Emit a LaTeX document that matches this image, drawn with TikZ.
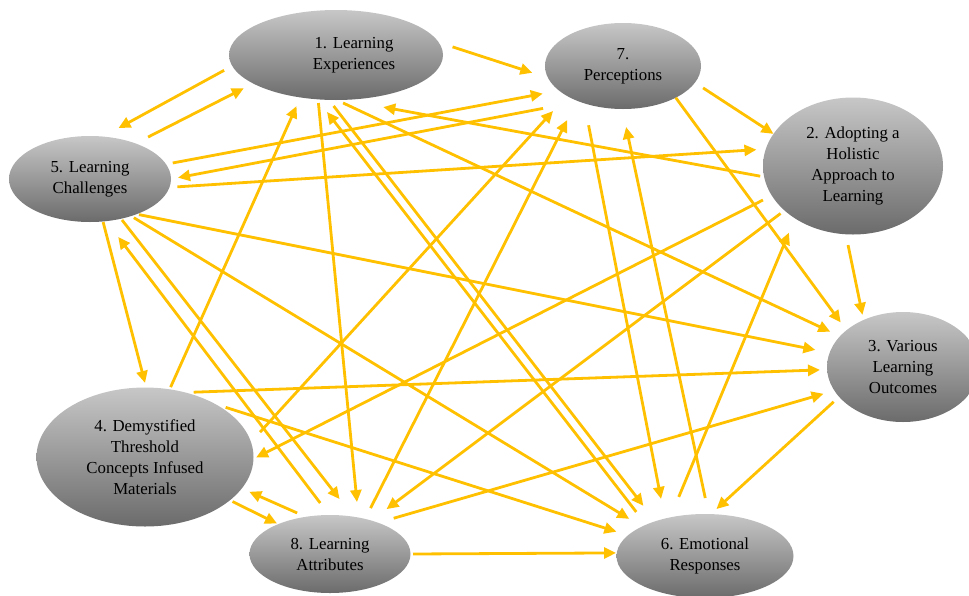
\documentclass[tikz,border=0pt]{standalone}
\usepackage{fontspec}
\setmainfont{Liberation Serif}
\usepackage{tikz}
\usetikzlibrary{shapes.geometric, arrows.meta}
\definecolor{gold}{RGB}{255,192,0}
\tikzset{
    every node/.style={ellipse, top color=black!22, bottom color=black!58,
    	inner sep=0pt, outer sep=0pt, align=center,
    	font=\fontsize{16.8}{21}\selectfont}
}
\tikzset{
    every edge/.append style={line width=2.8pt, draw=gold,
    	-{Triangle[length=12pt,width=11pt]}}
}
\tikzset{
    gap/.style 2 args={shorten <=#1pt, shorten >=#2pt}
}

\begin{document}
\begin{tikzpicture}[x=1pt, y=-1pt]
  \useasboundingbox (0,0) rectangle (969,595);
  \node (1) [minimum width=214pt, minimum height=90pt] at (336, 55)
    {\hspace*{36pt}1. Learning\\\hspace*{36pt}Experiences};
  \node (2) [minimum width=180pt, minimum height=137pt] at (853, 166)
    {2. Adopting a\\Holistic\\Approach to\\Learning};
  \node (3) [minimum width=152pt, minimum height=110pt] at (903, 367)
    {3. Various\\Learning\\Outcomes};
  \node (4) [minimum width=217pt, minimum height=139pt] at (145, 457)
    {4. Demystified\\Threshold\\Concepts Infused\\Materials};
  \node (5) [minimum width=162pt, minimum height=86pt] at (90, 179)
    {5. Learning\\Challenges};
  \node (6) [minimum width=177pt, minimum height=84pt] at (705, 556)
    {6. Emotional\\Responses};
  \node (7) [minimum width=156pt, minimum height=86pt] at (623, 66)
    {7.\\Perceptions};
  \node (8) [minimum width=161pt, minimum height=78pt] at (330, 554)
    {8. Learning\\Attributes};

  \draw (1.-174.2) edge[gap={9.2}{17.7}] (5.73.6);
  \draw (5.38) edge[gap={14.1}{10.6}] (1.-161.4);
  \draw (1.7.5) edge[gap={14.6}{16.5}] (7.-171.6);
  \draw (7.-13) edge[gap={9.7}{0}] (2.158.8);
  \draw (7.-31.6) edge[gap={0}{9.7}] (3.147.7);
  \draw (2.-96.9) edge[gap={11}{5.3}] (3.130.4);
  \draw (5.11.8) edge[gap={6.8}{16.5}] (7.-159.7);
  \draw (7.-141.9) edge[gap={36.7}{7.1}] (5.0.5);
  \draw (2.-173.8) edge[gap={4}{40}] (1.-80.4);
  \draw (5.-6.9) edge[gap={8}{9.4}] (2.169.9);
  \draw (1.-112.5) edge[gap={3.7}{15.6}] (8.52);
  \draw (6.152.2) edge[gap={16.1}{16}] (1.-113);
  \draw (1.-99.7) edge[gap={7.7}{19.5}] (6.145.4);
  \draw (1.-89.2) edge[gap={7}{10.7}] (3.154.4);
  \draw (4.70.5) edge[gap={2.4}{9.5}] (1.-130.4);
  \draw (5.-73.1) edge[gap={0.6}{4.7}] (4.89);
  \draw (8.91.3) edge[gap={15.1}{19.9}] (5.-69.2);
  \draw (5.-52) edge[gap={1.6}{22.3}] (8.58.7);
  \draw (5.-42.9) edge[gap={3.2}{14.8}] (6.155.2);
  \draw (5.-37.9) edge[gap={2.4}{14.5}] (3.169.9);
  \draw (4.8.1) edge[gap={13.5}{20.5}] (7.-152.1);
  \draw (8.45.6) edge[gap={12.1}{21.7}] (7.-143.1);
  \draw (7.-136.6) edge[gap={22.3}{20}] (6.137.1);
  \draw (6.85.4) edge[gap={16.4}{18.4}] (7.-91.1);
  \draw (2.-160) edge[gap={9.9}{2.9}] (4.-1.7);
  \draw (2.-147.5) edge[gap={5}{19}] (8.39.5);
  \draw (6.132.7) edge[gap={22.2}{15.5}] (2.-138.8);
  \draw (4.58.5) edge[gap={8.4}{7.1}] (3.182.1);
  \draw (4.37.4) edge[gap={10.9}{12.1}] (6.165.3);
  \draw (8.123.2) edge[gap={9.5}{8.2}] (4.-18.2);
  \draw (4.-27.4) edge[gap={2.9}{1.3}] (8.150.9);
  \draw (8.33.6) edge[gap={16.2}{11.3}] (3.-161.7);
  \draw (8.-0.7) edge[gap={2.5}{0.7}] (6.178.1);
  \draw (3.-155.8) edge[gap={7.4}{7.5}] (6.82.5);
\end{tikzpicture}
\end{document}
